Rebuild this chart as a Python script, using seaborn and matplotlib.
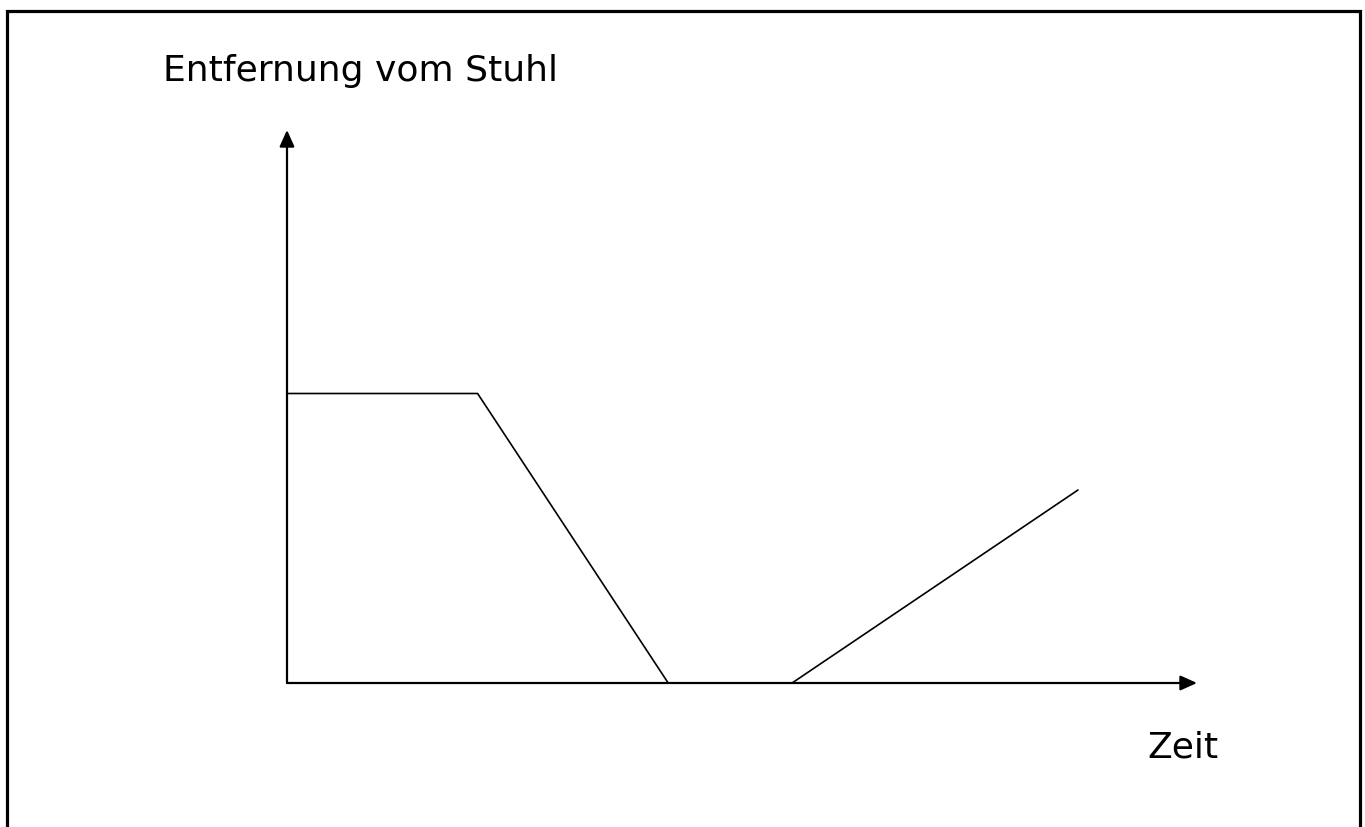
import matplotlib
matplotlib.use("Agg")
import matplotlib.pyplot as plt
from matplotlib.patches import Rectangle
import pandas as pd
import seaborn as sns

# Zeit / Entfernung (geschaetzt aus dem Bild)
zeit = [0, 2.0, 4.0, 5.3, 8.3]
entfernung = [3.0, 3.0, 0, 0, 2.0]

x_label = "Zeit"
y_label = "Entfernung vom Stuhl"

df = pd.DataFrame({"Zeit": zeit, "Entfernung": entfernung})

sns.set_style("white")
plt.rcParams["font.family"] = ["DejaVu Sans"]

W, H = 1365, 827
fig = plt.figure(figsize=(W / 100, H / 100), dpi=100)

# axes from the origin to the arrow tips
x0, y0 = 287, 683
x1, y1 = 1197, 130
ax = fig.add_axes([x0 / W, (H - y0) / H, (x1 - x0) / W, (y0 - y1) / H])
ax.set_xlim(0, (x1 - x0) / 95.3)
ax.set_ylim(0, (y0 - y1) / 96.5)

sns.lineplot(data=df, x="Zeit", y="Entfernung", ax=ax, color="black",
             linewidth=1.2, sort=False, clip_on=False)

for s in ax.spines.values():
    s.set_visible(False)
ax.set_xticks([])
ax.set_yticks([])
ax.set_xlabel("")
ax.set_ylabel("")
ax.patch.set_alpha(0)

arrow = dict(arrowstyle="-|>,head_length=1.0,head_width=0.45", color="black",
             lw=1.6, shrinkA=0, shrinkB=0)
ax.annotate("", xy=(1, 0), xytext=(0, 0), xycoords="axes fraction",
            arrowprops=arrow)
ax.annotate("", xy=(0, 1), xytext=(0, 0), xycoords="axes fraction",
            arrowprops=arrow)

fig.text(163 / W, 1 - 81 / H, y_label, fontsize=26, ha="left",
         va="baseline", color="black")
fig.text(1147 / W, 1 - 757 / H, x_label, fontsize=26, ha="left",
         va="baseline", color="black")

# Rahmen (unten abgeschnitten)
fig.patches.append(Rectangle((7 / W, -0.05), (1360 - 7) / W, 1.05 - 11 / H,
                             transform=fig.transFigure, fill=False,
                             edgecolor="black", linewidth=2.3))

fig.savefig("out.png", dpi=100)
